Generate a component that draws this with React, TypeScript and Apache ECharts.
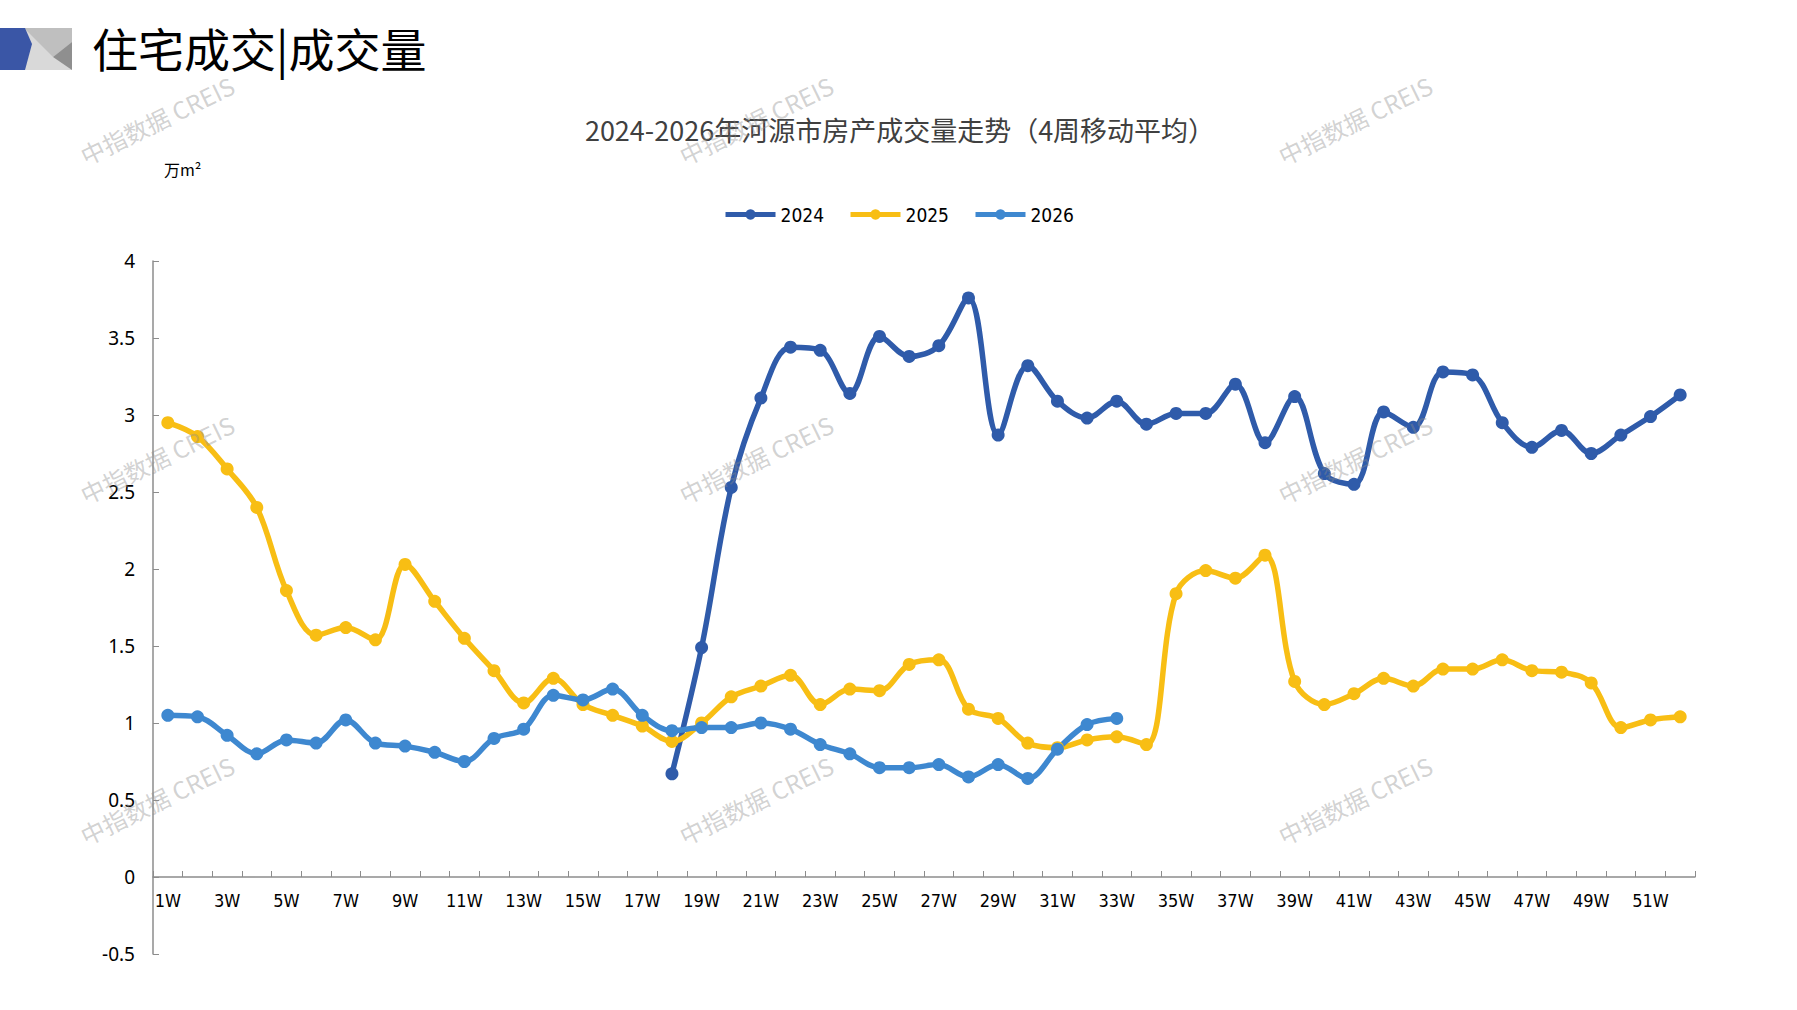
import React, { useEffect, useRef } from 'react';
import * as echarts from 'echarts';

// 周次
const weeks = Array.from({ length: 52 }, (_, i) => `${i + 1}W`);

// 2024 年从 18W 开始有数据
const data2024 = [
	null, null, null, null, null, null, null, null, null, null,
	null, null, null, null, null, null, null,
	0.67, 1.49, 2.53, 3.11, 3.44, 3.42, 3.14, 3.51, 3.38, 3.45,
	3.76, 2.87, 3.32, 3.09, 2.98, 3.09, 2.94, 3.01, 3.01, 3.2,
	2.82, 3.12, 2.62, 2.55, 3.02, 2.92, 3.28, 3.26, 2.95, 2.79,
	2.9, 2.75, 2.87, 2.99, 3.13
];

const data2025 = [
	2.95, 2.86, 2.65, 2.4, 1.86, 1.57, 1.62, 1.54, 2.03, 1.79,
	1.55, 1.34, 1.13, 1.29, 1.12, 1.05, 0.98, 0.88, 1.0, 1.17,
	1.24, 1.31, 1.12, 1.22, 1.21, 1.38, 1.41, 1.09, 1.03, 0.87,
	0.84, 0.89, 0.91, 0.86, 1.84, 1.99, 1.94, 2.09, 1.27, 1.12,
	1.19, 1.29, 1.24, 1.35, 1.35, 1.41, 1.34, 1.33, 1.26, 0.97,
	1.02, 1.04
];

// 2026 年截至 33W
const data2026 = [
	1.05, 1.04, 0.92, 0.8, 0.89, 0.87, 1.02, 0.87, 0.85, 0.81,
	0.75, 0.9, 0.96, 1.18, 1.15, 1.22, 1.05, 0.95, 0.97, 0.97,
	1.0, 0.96, 0.86, 0.8, 0.71, 0.71, 0.73, 0.65, 0.73, 0.64,
	0.83, 0.99, 1.03
];

const seriesNames = ['2024', '2025', '2026'];
const seriesColors = ['#2F5BAA', '#F8BE14', '#3E88D0'];

// 水印位置
const watermarkPos = [
	[157, 120], [756, 120], [1355, 120],
	[157, 459], [756, 459], [1355, 459],
	[157, 800], [756, 800], [1355, 800]
];

const narrowFont = '"Liberation Sans Narrow", "DejaVu Sans Condensed", sans-serif';

const App: React.FC = () => {
	const chartRef = useRef<HTMLDivElement>(null);

	useEffect(() => {
		if (!chartRef.current) return;
		document.body.style.margin = '0';
		const chart = echarts.init(chartRef.current, null, { renderer: 'svg' });

		const makeLine = (name: string, data: (number | null)[], color: string) => ({
			name,
			type: 'line' as const,
			data,
			smooth: 0.35,
			symbol: 'circle',
			symbolSize: 13,
			connectNulls: false,
			lineStyle: { width: 5.5, color },
			itemStyle: { color }
		});

		const watermarks = watermarkPos.map(([x, y]) => ({
			type: 'text',
			x,
			y,
			rotation: (26 * Math.PI) / 180,
			z: 100,
			style: {
				text: '中指数据 CREIS',
				fill: 'rgba(140,140,140,0.4)',
				font: '24px "Noto Sans CJK SC", sans-serif',
				align: 'center',
				verticalAlign: 'middle'
			}
		}));

		chart.setOption({
			animation: false,
			backgroundColor: '#fff',
			color: seriesColors,
			title: {
				text: '2024-2026年河源市房产成交量走势（4周移动平均）',
				left: 895,
				top: 111,
				textAlign: 'center',
				textStyle: {
					fontSize: 27,
					fontWeight: 'normal',
					color: '#404040',
					fontFamily: '"Noto Sans CJK SC", sans-serif'
				}
			},
			legend: {
				data: seriesNames,
				left: 'center',
				top: 200,
				itemWidth: 50,
				itemHeight: 13,
				itemGap: 24,
				lineStyle: { width: 5 },
				textStyle: { fontSize: 19, color: '#000', fontFamily: narrowFont }
			},
			grid: { left: 153, right: 102, top: 261, bottom: 56 },
			xAxis: {
				type: 'category',
				data: weeks,
				boundaryGap: true,
				axisLine: { onZero: true, lineStyle: { color: '#8c8c8c', width: 1.5 } },
				axisTick: { show: true, inside: true, interval: 0, length: 6, lineStyle: { color: '#8c8c8c' } },
				axisLabel: {
					interval: 1,
					margin: -63,
					fontSize: 18,
					color: '#000',
					fontFamily: narrowFont
				}
			},
			yAxis: {
				type: 'value',
				min: -0.5,
				max: 4,
				interval: 0.5,
				splitLine: { show: false },
				axisLine: { show: true, lineStyle: { color: '#8c8c8c', width: 1.5 } },
				axisTick: { show: true, inside: true, length: 6, lineStyle: { color: '#8c8c8c' } },
				axisLabel: { margin: 18, fontSize: 19, color: '#000', fontFamily: '"Noto Sans", sans-serif' }
			},
			series: [
				makeLine(seriesNames[0], data2024, seriesColors[0]),
				makeLine(seriesNames[1], data2025, seriesColors[1]),
				makeLine(seriesNames[2], data2026, seriesColors[2])
			],
			graphic: [
				// 左上角标识
				{ type: 'rect', shape: { x: 0, y: 28, width: 72, height: 42 }, style: { fill: '#d9d9d9' } },
				{ type: 'polygon', shape: { points: [[24, 28], [72, 28], [72, 42], [53, 57]] }, style: { fill: '#bfbfbf' } },
				{ type: 'polygon', shape: { points: [[53, 57], [72, 42], [72, 70]] }, style: { fill: '#8f8f8f' } },
				{ type: 'polygon', shape: { points: [[0, 28], [25, 28], [32, 44], [25, 70], [0, 70]] }, style: { fill: '#3A56A6' } },
				{
					type: 'text',
					x: 92,
					y: 47,
					style: {
						text: '住宅成交|成交量',
						font: '46px "Noto Sans CJK SC", serif',
						fill: '#000',
						verticalAlign: 'middle'
					}
				},
				{
					type: 'text',
					x: 164,
					y: 169,
					style: {
						text: '万m²',
						font: '16px "Noto Sans CJK SC", sans-serif',
						fill: '#000',
						verticalAlign: 'middle'
					}
				},
				...watermarks
			]
		});

		return () => {
			chart.dispose();
		};
	}, []);

	return <div ref={chartRef} style={{ width: 1797, height: 1010 }} />;
};

export default App;
